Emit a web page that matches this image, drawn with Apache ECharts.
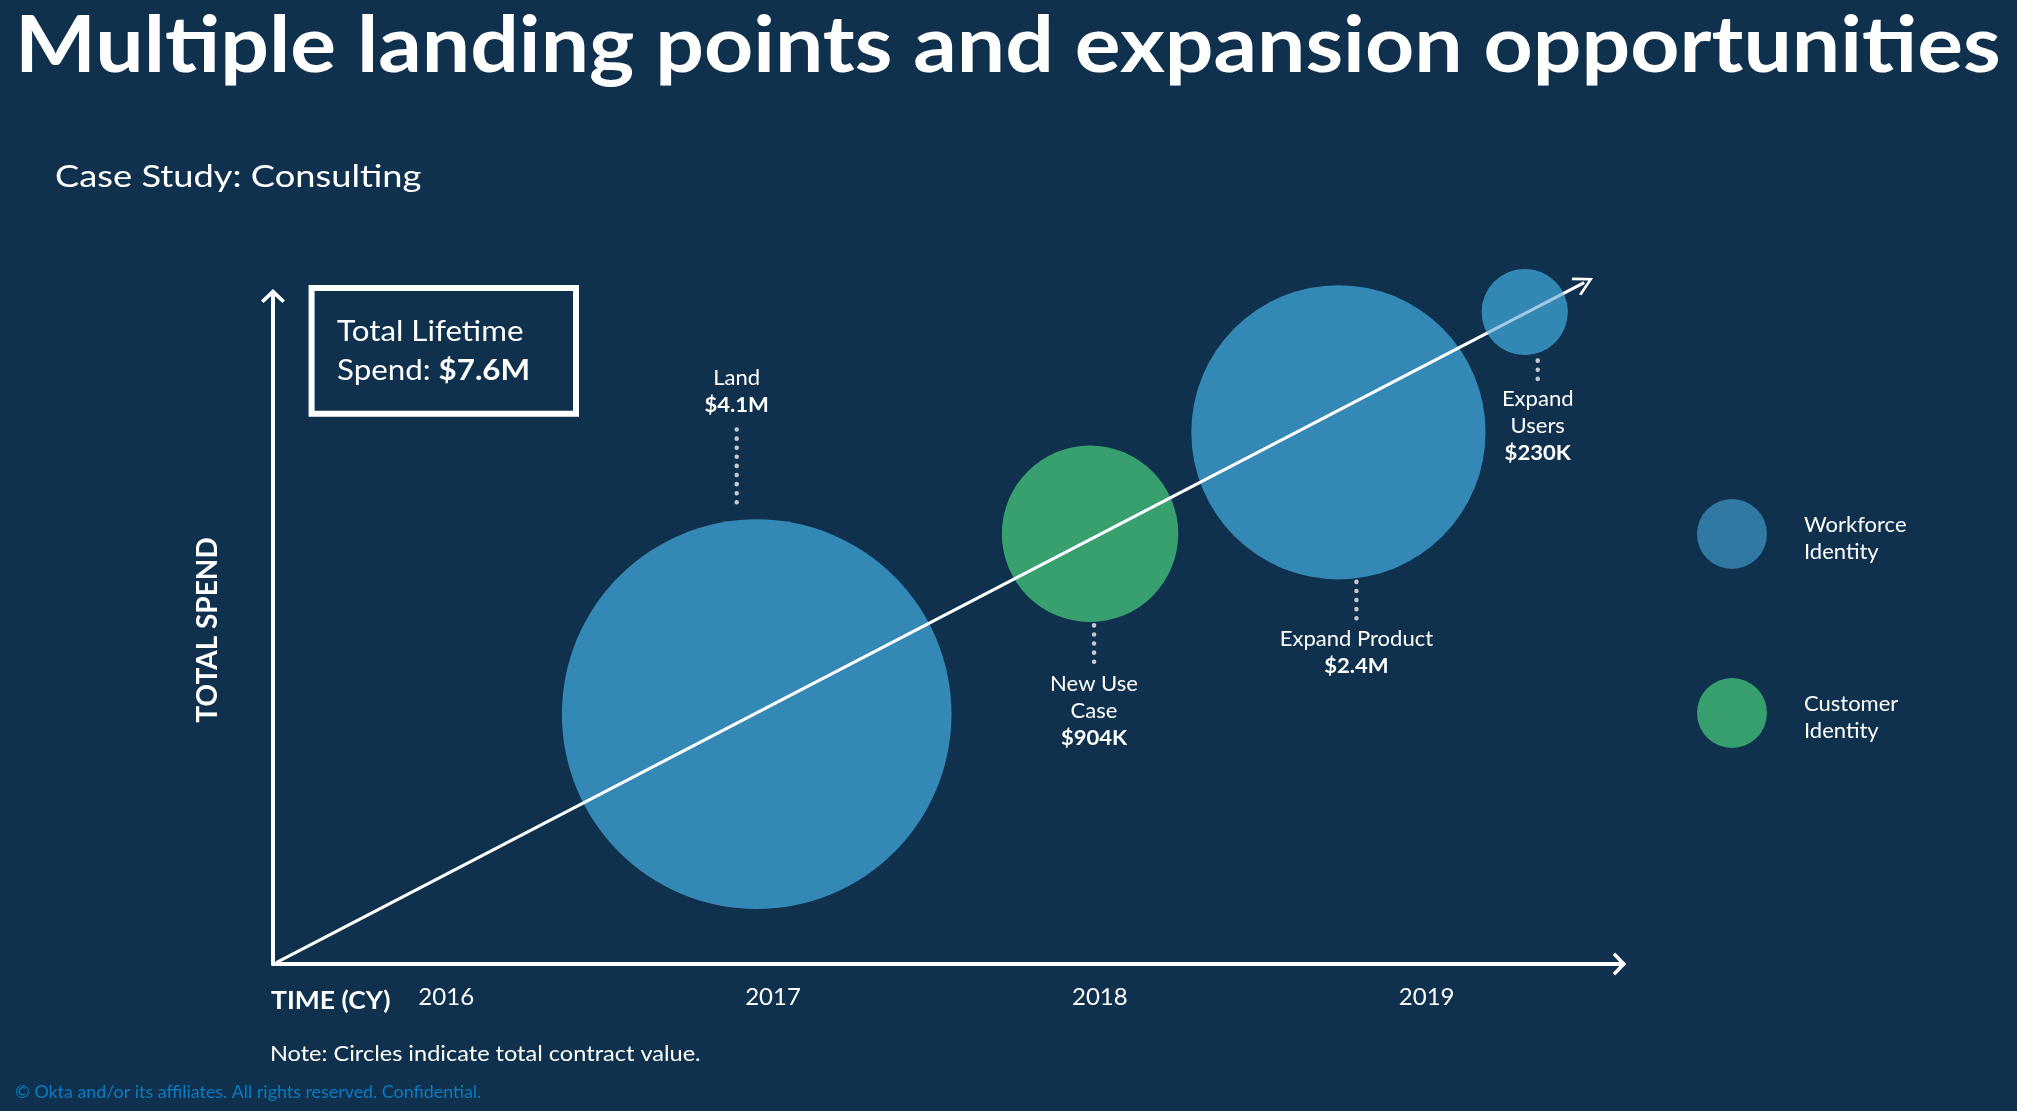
<!DOCTYPE html>
<html>
<head>
<meta charset="utf-8">
<script src="https://cdn.jsdelivr.net/npm/echarts@6/dist/echarts.min.js"></script>
<style>
html,body{margin:0;padding:0;background:#0f314d;}
#c{width:2017px;height:1111px;}
</style>
</head>
<body>
<div id="c"></div>
<script>
// ---- data ----
const stageNames = ['Land', 'New Use Case', 'Expand Product', 'Expand Users'];
const stageLabelLines = [['Land'], ['New Use', 'Case'], ['Expand Product'], ['Expand', 'Users']];
const valueLabels = ['$4.1M', '$904K', '$2.4M', '$230K'];
const contractValuesM = [4.1, 0.904, 2.4, 0.23];
const products = ['Workforce Identity', 'Customer Identity', 'Workforce Identity', 'Workforce Identity'];
const productNames = ['Workforce Identity', 'Customer Identity'];
const timeYears = [2016.95, 2017.97, 2018.73, 2019.30];
const spendHeight = [37.4, 64.4, 79.6, 97.6];
const yearTicks = [2016, 2017, 2018, 2019];
const trendFrom = [2015.48, 0.2];
const trendTo = [2019.482, 102.0];
const totalLifetime = '$7.6M';
const xRange = [2015.47, 2019.59];
const yRange = [0, 100];

// ---- styles ----
const FONT = 'Lato';
const BG = '#0f314d';
const bubbleColors = {'Workforce Identity': '#3488b5', 'Customer Identity': '#38a06f'};
const legendColors = {'Workforce Identity': '#2f79a3', 'Customer Identity': '#379e6d'};
const chev = 'path://M12,0 L24,11.5 L21.4,14 L12,5.2 L2.6,14 L0,11.5 Z';
const chevTrend = 'path://M10.5,0 L21,18 L18.8,19.8 L10.5,5.2 L2.2,19.8 L0,18 Z';
const overlayStages = [3]; // bubbles drawn semi-transparently above the trend arrow
// annotation layout per stage (style, not data)
const annotStyle = [
  {side: 'top', dx: -20, gap: 17, len: 75, textGap: 8.5},
  {side: 'bottom', dx: 4, gap: 3.3, len: 37, textGap: 8.5},
  {side: 'bottom', dx: 18, gap: 2.4, len: 37, textGap: 6.5},
  {side: 'bottom', dx: 13, gap: 5.5, len: 18.6, textGap: 7}
];
function bubbleDiameter(v) { return 2 * 93 * Math.pow(v, 0.524); }

const rows = stageNames.map((n, i) => [timeYears[i], spendHeight[i], contractValuesM[i], i]);

const scatterSeries = productNames.map(p => ({
  name: p,
  type: 'scatter',
  z: 2,
  symbol: 'circle',
  symbolSize: val => bubbleDiameter(val[2]),
  itemStyle: {color: bubbleColors[p], opacity: 1},
  emphasis: {disabled: true},
  data: rows.filter(r => products[r[3]] === p)
}));

const overlaySeries = {
  name: products[overlayStages[0]],
  type: 'scatter',
  z: 3.5,
  silent: true,
  symbol: 'circle',
  symbolSize: val => bubbleDiameter(val[2]),
  itemStyle: {color: bubbleColors[products[overlayStages[0]]], opacity: 0.45},
  emphasis: {disabled: true},
  data: rows.filter(r => overlayStages.indexOf(r[3]) >= 0)
};

const chart = echarts.init(document.getElementById('c'), null, {renderer: 'canvas'});

function txt(x, y, text, size, bold, sx, fill) {
  return {type: 'text', x: x, y: y, scaleX: sx || 1, style: {text: text, fill: fill || '#ffffff',
    fontSize: size, fontWeight: bold ? 'bold' : 'normal', fontFamily: FONT, verticalAlign: 'middle', align: 'left'}};
}

const option = {
  backgroundColor: BG,
  animation: false,
  textStyle: {fontFamily: FONT},
  grid: {left: 273, right: 397.5, top: 296, bottom: 147, containLabel: false, outerBoundsMode: 'none'},
  xAxis: {
    type: 'value', min: xRange[0], max: xRange[1],
    axisLine: {show: true, onZero: false, lineStyle: {color: '#ffffff', width: 4}, symbol: ['none', chev], symbolSize: [23, 15]},
    axisTick: {show: false},
    splitLine: {show: false},
    axisLabel: {show: true, customValues: yearTicks, color: '#ffffff', fontSize: 24, fontFamily: FONT, margin: 21,
      formatter: v => String(Math.round(v))}
  },
  yAxis: {
    type: 'value', min: yRange[0], max: yRange[1],
    axisLine: {show: true, onZero: false, lineStyle: {color: '#ffffff', width: 4}, symbol: ['none', chev], symbolSize: [24, 14]},
    axisTick: {show: false},
    splitLine: {show: false},
    axisLabel: {show: false},
    name: 'TOTAL SPEND', nameLocation: 'middle', nameRotate: 90, nameGap: 51,
    nameTextStyle: {color: '#ffffff', fontSize: 28, fontWeight: 'bold', fontFamily: FONT}
  },
  legend: {
    orient: 'vertical', left: 1692, top: 494,
    itemWidth: 70, itemHeight: 70, itemGap: 109,
    icon: 'circle',
    selectedMode: false,
    data: productNames.map(p => ({name: p, itemStyle: {color: legendColors[p], opacity: 1}})),
    formatter: n => '{s| }\n' + n.split(' ').map(w => '{t|' + w + '}').join('\n'),
    textStyle: {color: '#ffffff', fontSize: 22, fontFamily: FONT, padding: [0, 0, 0, 32],
      rich: {
        s: {fontSize: 1, lineHeight: 9},
        t: {color: '#ffffff', fontSize: 22, fontFamily: FONT, lineHeight: 27}
      }}
  },
  graphic: [
    txt(15, 47, 'Multiple landing points and expansion opportunities', 78, true, 1.1),
    txt(55, 177, 'Case Study: Consulting', 31, false, 1.17),
    {type: 'rect', shape: {x: 311.6, y: 288, width: 264.4, height: 125.7},
      style: {fill: 'none', stroke: '#ffffff', lineWidth: 6}},
    {type: 'text', x: 337, y: 351, scaleX: 1.08, style: {
      text: '{a|Total Lifetime}\n{a|Spend: }{b|' + totalLifetime + '}',
      verticalAlign: 'middle', align: 'left',
      rich: {
        a: {fontSize: 29, fontFamily: FONT, fill: '#ffffff', color: '#ffffff', lineHeight: 39},
        b: {fontSize: 29, fontFamily: FONT, fontWeight: 'bold', fill: '#ffffff', color: '#ffffff', lineHeight: 39}
      }}},
    txt(271, 1001, 'TIME (CY)', 25, true, 1.06),
    txt(270, 1054, 'Note: Circles indicate total contract value.', 22, false, 1.07),
    txt(15, 1092.5, '\u00A9 Okta and/or its affiliates. All rights reserved. Confidential.', 17, false, 1.05, '#0b7cc2')
  ],
  series: scatterSeries.concat([
    {
      name: 'trend',
      type: 'lines',
      coordinateSystem: 'cartesian2d',
      z: 3,
      clip: false,
      silent: true,
      symbol: ['none', chevTrend],
      symbolSize: [21, 20],
      lineStyle: {color: '#ffffff', width: 3, opacity: 1, curveness: 0},
      data: [{coords: [trendFrom, trendTo]}]
    },
    overlaySeries,
    {
      name: 'annotations',
      type: 'custom',
      z: 4,
      silent: true,
      clip: false,
      data: rows,
      renderItem: function (params, api) {
        const i = api.value(3);
        const c = api.coord([api.value(0), api.value(1)]);
        const r = bubbleDiameter(api.value(2)) / 2;
        const a = annotStyle[i];
        const x = c[0] + a.dx;
        let y0, y1, ty, va;
        if (a.side === 'top') {
          y0 = c[1] - r - a.gap; y1 = y0 - a.len; ty = y1 - a.textGap; va = 'bottom';
        } else {
          y0 = c[1] + r + a.gap; y1 = y0 + a.len; ty = y1 + a.textGap; va = 'top';
        }
        const t = stageLabelLines[i].map(s => '{n|' + s + '}').join('\n') + '\n{v|' + valueLabels[i] + '}';
        return {
          type: 'group',
          children: [
            {type: 'line', shape: {x1: x, y1: y0, x2: x, y2: y1},
              style: {stroke: '#c8c9cc', lineWidth: 4.5, lineDash: [0.1, 9], lineCap: 'round'}},
            {type: 'text', x: x, y: ty, scaleX: 1.05, style: {
              text: t, align: 'center', verticalAlign: va,
              rich: {
                n: {fontSize: 21, fontFamily: FONT, fill: '#ffffff', color: '#ffffff', lineHeight: 27, align: 'center'},
                v: {fontSize: 21, fontFamily: FONT, fontWeight: 'bold', fill: '#ffffff', color: '#ffffff', lineHeight: 27, align: 'center'}
              }}}
          ]
        };
      }
    }
  ])
};
chart.setOption(option);
</script>
</body>
</html>
